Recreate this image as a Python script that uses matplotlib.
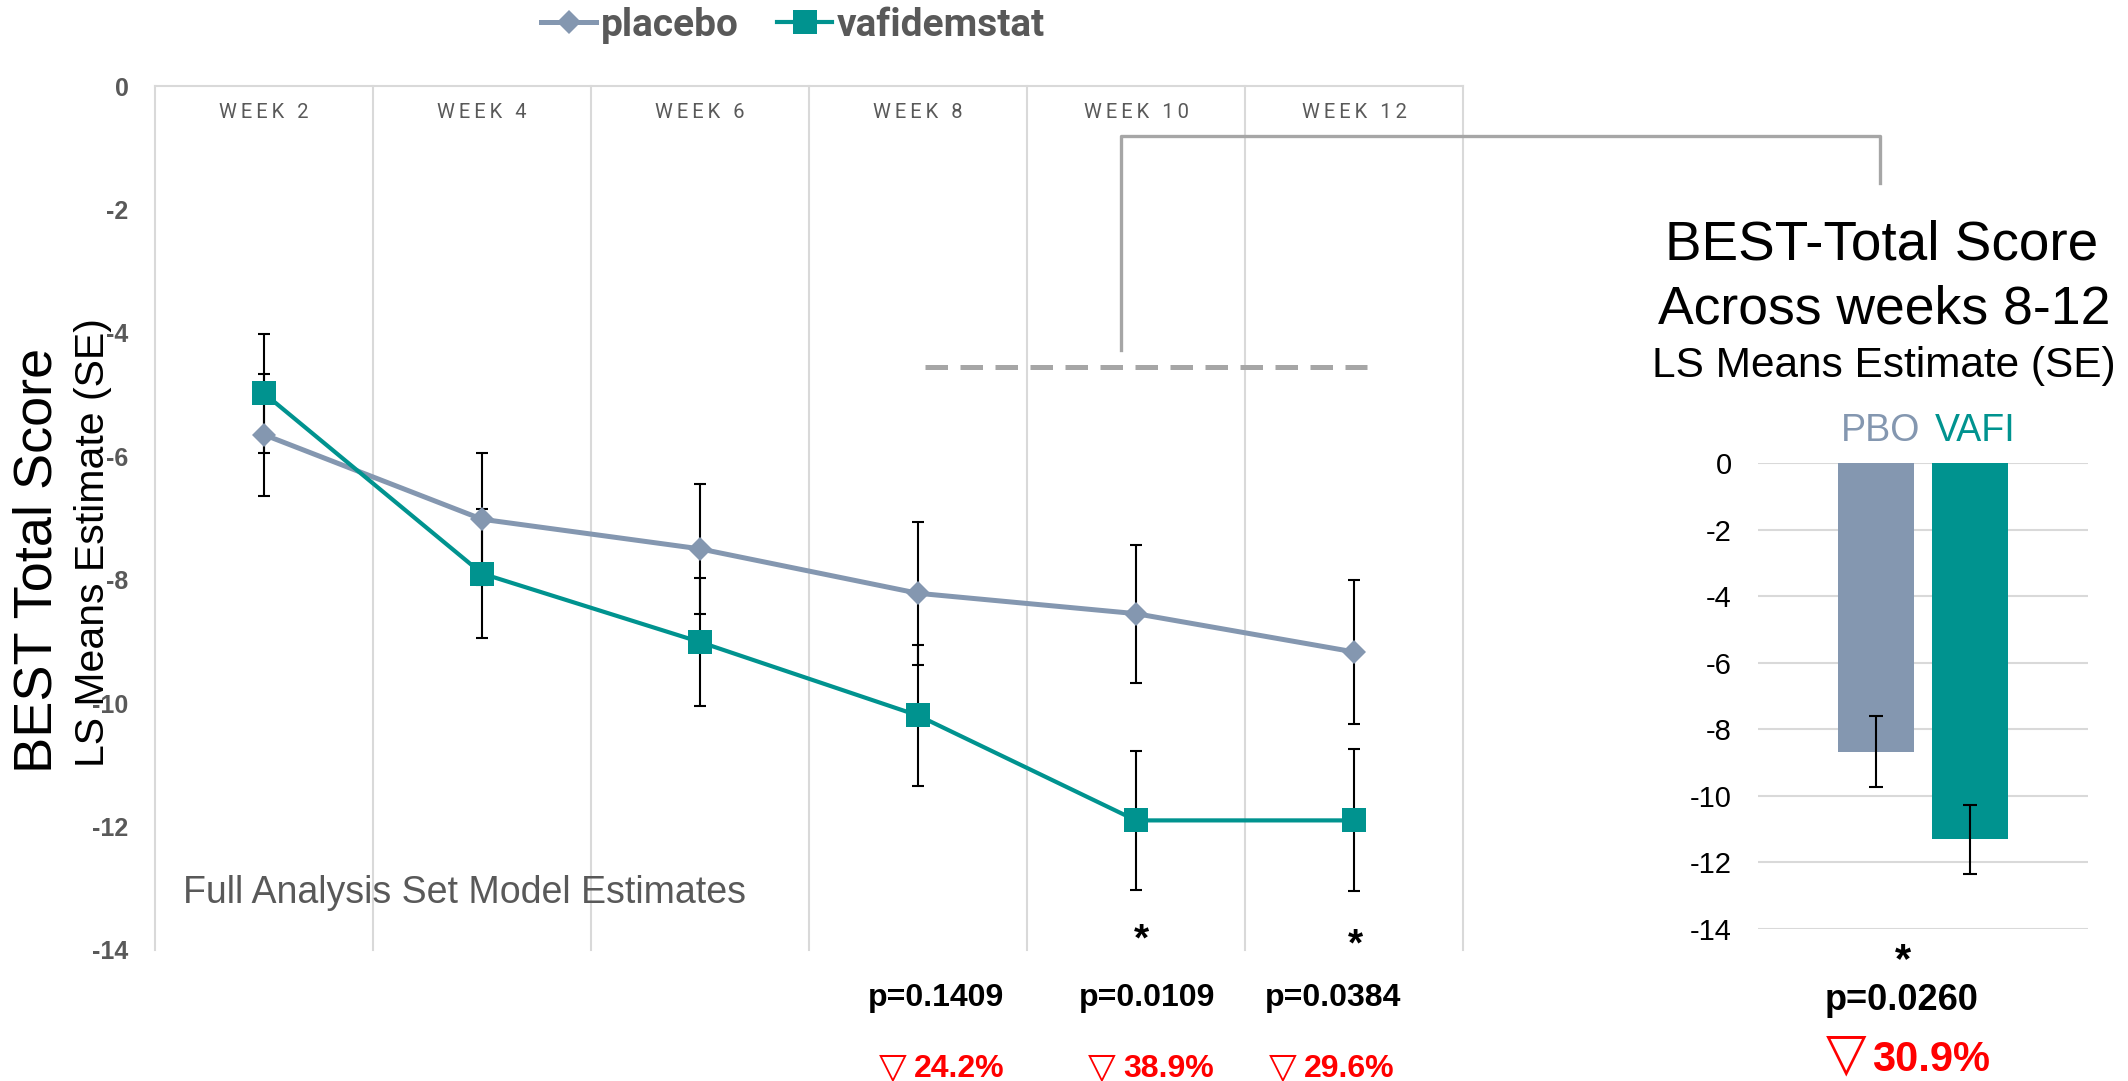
import matplotlib
matplotlib.use("Agg")
import matplotlib.pyplot as plt
from matplotlib.lines import Line2D
from matplotlib import transforms

# ---------------- data ----------------
weeks = ["WEEK 2", "WEEK 4", "WEEK 6", "WEEK 8", "WEEK 10", "WEEK 12"]
placebo = [-5.65, -7.02, -7.50, -8.22, -8.55, -9.17]
placebo_se = [0.99, 1.07, 1.05, 1.16, 1.12, 1.16]
vafidemstat = [-4.98, -7.90, -9.01, -10.20, -11.90, -11.90]
vafidemstat_se = [0.96, 1.05, 1.03, 1.15, 1.12, 1.15]
y_ticks = [0, -2, -4, -6, -8, -10, -12, -14]

p_values = ["p=0.1409", "p=0.0109", "p=0.0384"]
reductions = ["24.2%", "38.9%", "29.6%"]
significance = ["", "*", "*"]
reference_level = -4.56

bar_labels = ["PBO", "VAFI"]
bar_values = [-8.67, -11.31]
bar_se = [1.07, 1.04]
overall_p = "p=0.0260"
overall_reduction = "30.9%"
overall_sig = "*"

# ---------------- style ----------------
W, H = 2128, 1081
C_PBO = "#8497B0"
C_VAFI = "#00938F"
GRAY_TXT = "#595959"
GRID = "#D9D9D9"
BRACKET = "#A6A6A6"
RED = "#FF0000"
SANS = ["Liberation Sans", "DejaVu Sans"]
plt.rcParams["font.family"] = SANS


def fx(px):
    return px / W


def fy(py):
    return 1 - py / H


fig = plt.figure(figsize=(W / 100, H / 100), dpi=100)

# ---------------- main line chart ----------------
ax = fig.add_axes([fx(155), fy(950), fx(1463) - fx(155), fy(86) - fy(950)])
x = list(range(len(weeks)))
ax.set_xlim(-0.5, len(weeks) - 0.5)
ax.set_ylim(-14, 0)
for s in ax.spines.values():
    s.set_visible(False)
for k in range(len(weeks) + 1):
    ax.axvline(k - 0.5, color=GRID, lw=1.5, zorder=0, clip_on=False)
ax.axhline(0, color=GRID, lw=1.5, zorder=0, clip_on=False)
ax.set_xticks([])
ax.set_yticks(y_ticks)
ax.set_yticklabels([str(t) for t in y_ticks], fontsize=18, fontweight="bold",
                   color=GRAY_TXT)
ax.tick_params(axis="y", length=0, pad=19)

ax.errorbar(x, placebo, yerr=placebo_se, fmt="none", ecolor="black",
            elinewidth=1.5, capsize=4.5, capthick=1.5, zorder=2)
ax.errorbar(x, vafidemstat, yerr=vafidemstat_se, fmt="none", ecolor="black",
            elinewidth=1.5, capsize=4.5, capthick=1.5, zorder=2)
l_pbo, = ax.plot(x, placebo, color=C_PBO, lw=3.6, marker="D", markersize=12,
                 markeredgewidth=0, zorder=3, label="placebo")
l_vafi, = ax.plot(x, vafidemstat, color=C_VAFI, lw=3.0, marker="s",
                  markersize=17, markeredgewidth=0, zorder=4,
                  label="vafidemstat")

# dashed reference line weeks 8-12
ax.plot([3.03, 5.06], [reference_level, reference_level], color=BRACKET,
        lw=3.6, ls=(0, (4.5, 2.5)), zorder=1, solid_capstyle="butt")

bt = transforms.blended_transform_factory(ax.transData, fig.transFigure)
for i, w in enumerate(weeks):
    spaced = "\u200a\u200a".join(list(w))
    ax.text(i, fy(112), spaced, transform=bt, ha="center", va="center",
            fontsize=14.5, color=GRAY_TXT, family=["Roboto", "DejaVu Sans"])

ax.text(fx(183), fy(893), "Full Analysis Set Model Estimates",
        transform=fig.transFigure, ha="left", va="center", fontsize=27,
        color=GRAY_TXT)

# axis titles
fig.text(fx(38), fy(560), "BEST Total Score", rotation=90, ha="center",
         va="center", fontsize=39, color="black")
fig.text(fx(93), fy(543), "LS Means Estimate (SE)", rotation=90, ha="center",
         va="center", fontsize=29.5, color="black")

# legend
fig.legend(handles=[l_pbo, l_vafi], loc="center",
           bbox_to_anchor=(fx(793), fy(25)), ncol=2, frameon=False,
           prop={"family": "Roboto", "weight": "bold", "size": 28},
           labelcolor=GRAY_TXT, handlelength=1.4, handletextpad=0.12,
           columnspacing=1.0, borderpad=0)

# p-values, stars, reductions under weeks 8, 10, 12
star_px = [None, (1141, 940), (1355, 945)]
p_px = [936, 1147, 1333]
tri_px = [907, 1116, 1297]
for i in range(3):
    if significance[i]:
        fig.text(fx(star_px[i][0]), fy(star_px[i][1]), significance[i],
                 ha="center", va="center", fontsize=28, fontweight="bold")
    fig.text(fx(p_px[i]), fy(998), p_values[i], ha="center", va="center",
             fontsize=23, fontweight="bold", color="black")
    fig.text(fx(tri_px[i]), fy(1067), "\u25BD", ha="right", va="center",
             fontsize=26, color=RED, family=["DejaVu Sans"])
    fig.text(fx(tri_px[i] + 7), fy(1069), reductions[i], ha="left",
             va="center", fontsize=23, fontweight="bold", color=RED)

# bracket connecting to summary panel
fig.add_artist(Line2D([fx(1121), fx(1121), fx(1880), fx(1880)],
                      [fy(350), fy(136), fy(136), fy(183)],
                      transform=fig.transFigure, color=BRACKET, lw=2.4))

# ---------------- summary bar chart ----------------
bx = fig.add_axes([fx(1758), fy(929), fx(2088) - fx(1758), fy(463) - fy(929)])
xb = [0, 1]
bx.set_xlim(-1.255, 2.255)
bx.set_ylim(-14, 0)
for s in bx.spines.values():
    s.set_visible(False)
bx.set_yticks(y_ticks)
bx.set_yticklabels([str(t) for t in y_ticks], fontsize=21, color="black")
bx.tick_params(axis="y", length=0, pad=19)
bx.set_xticks([])
bx.yaxis.grid(True, color=GRID, lw=1.5)
bx.set_axisbelow(True)
bx.bar(xb, bar_values, width=0.81, color=[C_PBO, C_VAFI], zorder=2)
bx.errorbar(xb, bar_values, yerr=bar_se, fmt="none", ecolor="black",
            elinewidth=1.5, capsize=5, capthick=1.5, zorder=3)

bbt = transforms.blended_transform_factory(bx.transData, fig.transFigure)
for xi, lab, col in zip(xb, bar_labels, [C_PBO, C_VAFI]):
    bx.text(xi + 0.05, fy(431), lab, transform=bbt, ha="center", va="center",
            fontsize=27, color=col)

fig.text(fx(1882), fy(246), "BEST-Total Score", ha="center", va="center",
         fontsize=39.5)
fig.text(fx(1884), fy(309), "Across weeks 8-12", ha="center", va="center",
         fontsize=38.5)
fig.text(fx(1884), fy(366), "LS Means Estimate (SE)", ha="center",
         va="center", fontsize=30.5)

fig.text(fx(1903), fy(961), overall_sig, ha="center", va="center",
         fontsize=30, fontweight="bold")
fig.text(fx(1902), fy(1001), overall_p, ha="center", va="center", fontsize=26,
         fontweight="bold")
fig.text(fx(1866), fy(1080.5), "\u25BD", ha="right", va="bottom", fontsize=38,
         color=RED, family=["DejaVu Sans"])
fig.text(fx(1872), fy(1071), overall_reduction, ha="left", va="baseline",
         fontsize=30, fontweight="bold", color=RED)

fig.savefig("out.png", dpi=100)
